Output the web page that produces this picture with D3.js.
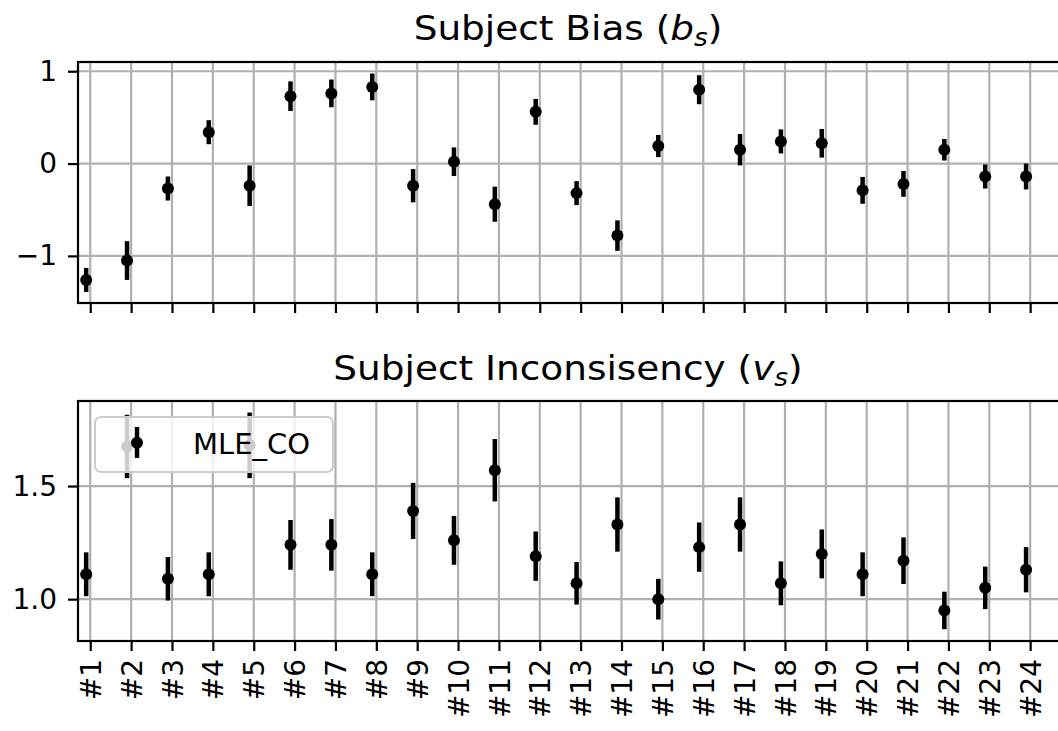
<!DOCTYPE html>
<html>
<head>
<meta charset="utf-8">
<script src="https://cdn.jsdelivr.net/npm/d3@7"></script>
<style>
  body { margin: 0; background: #fff; }
  svg { display: block; font-family: "DejaVu Sans", sans-serif; }
</style>
</head>
<body>
<script>
// subjects on the x axis
var subjects = d3.range(1, 25).map(function(i) { return "#" + i; });

// subject bias b_s (mean and half error bar)
var biasMean = [-1.26, -1.05, -0.27, 0.34, -0.24, 0.73, 0.76, 0.83,
                -0.24, 0.02, -0.44, 0.56, -0.32, -0.78, 0.19, 0.80,
                0.15, 0.24, 0.22, -0.29, -0.22, 0.15, -0.14, -0.14];
var biasErr = [0.13, 0.21, 0.13, 0.13, 0.22, 0.16, 0.15, 0.145,
               0.18, 0.155, 0.19, 0.14, 0.13, 0.165, 0.12, 0.157,
               0.17, 0.13, 0.155, 0.145, 0.14, 0.117, 0.13, 0.14];

// subject inconsistency v_s
var inconMean = [1.11, 1.675, 1.09, 1.11, 1.68, 1.24, 1.24, 1.11,
                 1.39, 1.26, 1.57, 1.19, 1.07, 1.33, 1.00, 1.23,
                 1.33, 1.07, 1.20, 1.11, 1.17, 0.95, 1.05, 1.13];
var inconErr = [0.097, 0.14, 0.096, 0.097, 0.145, 0.11, 0.114, 0.097,
                0.124, 0.108, 0.138, 0.109, 0.094, 0.12, 0.09, 0.109,
                0.12, 0.097, 0.108, 0.097, 0.103, 0.083, 0.094, 0.10];

var biasTicks = [-1, 0, 1];
var inconTicks = [1.0, 1.5];
var seriesName = "MLE_CO";

var width = 1058, height = 731;
var left = 78, right = 1060;
var offset = -0.1; // series offset from tick

var svg = d3.select("body").append("svg")
    .attr("width", width)
    .attr("height", height);

var x = d3.scaleLinear().domain([-0.3, 23.73]).range([left, right]);

var panels = [
  { title: "Subject Bias (", sym: "b", top: 62, bottom: 303, domain: [-1.51, 1.10],
    ticks: biasTicks, fmt: function(d) { return d3.format("d")(d).replace("-", "\u2212"); },
    mean: biasMean, err: biasErr, labels: false, titleY: 39.5 },
  { title: "Subject Inconsisency (", sym: "v", top: 401, bottom: 641, domain: [0.815, 1.876],
    ticks: inconTicks, fmt: d3.format(".1f"),
    mean: inconMean, err: inconErr, labels: true, titleY: 379.5 }
];

panels.forEach(function(p) {
  var y = d3.scaleLinear().domain(p.domain).range([p.bottom, p.top]);
  var g = svg.append("g");

  // grid
  g.selectAll(".gx").data(d3.range(subjects.length)).enter().append("line")
      .attr("x1", function(d) { return x(d); })
      .attr("x2", function(d) { return x(d); })
      .attr("y1", p.top).attr("y2", p.bottom)
      .attr("stroke", "#b0b0b0").attr("stroke-width", 2.2);
  g.selectAll(".gy").data(p.ticks).enter().append("line")
      .attr("x1", left).attr("x2", right)
      .attr("y1", function(d) { return y(d); })
      .attr("y2", function(d) { return y(d); })
      .attr("stroke", "#b0b0b0").attr("stroke-width", 2.2);

  // error bars
  var pts = g.selectAll(".pt").data(p.mean).enter().append("g");
  pts.append("line")
      .attr("x1", function(d, i) { return x(i + offset); })
      .attr("x2", function(d, i) { return x(i + offset); })
      .attr("y1", function(d, i) { return y(d - p.err[i]); })
      .attr("y2", function(d, i) { return y(d + p.err[i]); })
      .attr("stroke", "#000").attr("stroke-width", 4.5);
  pts.append("circle")
      .attr("cx", function(d, i) { return x(i + offset); })
      .attr("cy", function(d) { return y(d); })
      .attr("r", 6).attr("fill", "#000");

  // axes
  var ya = g.append("g").attr("transform", "translate(" + left + ",0)")
      .call(d3.axisLeft(y).tickValues(p.ticks).tickFormat(p.fmt).tickSize(10).tickPadding(11));
  var xa = g.append("g").attr("transform", "translate(0," + p.bottom + ")")
      .call(d3.axisBottom(x).tickValues(d3.range(subjects.length))
        .tickFormat(p.labels ? function(i) { return subjects[i]; } : "")
        .tickSize(10).tickPadding(0));
  [ya, xa].forEach(function(a) {
    a.select(".domain").remove();
    a.selectAll(".tick line").attr("stroke", "#000").attr("stroke-width", 2.2);
    a.selectAll("text").attr("fill", "#000").style("font-size", "28px")
        .style("font-family", "DejaVu Sans");
  });
  if (p.labels) {
    xa.selectAll(".tick text")
        .attr("text-anchor", "end")
        .attr("y", 0).attr("dy", "0.36em")
        .attr("transform", "translate(0,18) rotate(-90)");
  }

  // spines
  g.append("rect")
      .attr("x", left).attr("y", p.top)
      .attr("width", right - left).attr("height", p.bottom - p.top)
      .attr("fill", "none").attr("stroke", "#000").attr("stroke-width", 2.2);

  // title with math symbol (picture is stretched a bit horizontally)
  var t = svg.append("text")
      .attr("transform", "translate(" + ((left + 1058) / 2) + "," + p.titleY + ") scale(1.1,1)")
      .attr("text-anchor", "middle")
      .style("font-size", "34px").attr("fill", "#000");
  t.append("tspan").text(p.title);
  t.append("tspan").style("font-style", "italic").text(p.sym);
  t.append("tspan").style("font-style", "italic").style("font-size", "24px")
      .attr("dy", 6).text("s");
  t.append("tspan").attr("dy", -6).text(")");
});

// legend in lower panel
var lg = svg.append("g");
lg.append("rect")
    .attr("x", 95).attr("y", 417).attr("width", 238).attr("height", 55)
    .attr("rx", 6)
    .attr("fill", "#fff").attr("fill-opacity", 0.8)
    .attr("stroke", "#cccccc").attr("stroke-width", 2);
lg.append("line")
    .attr("x1", 137).attr("x2", 137).attr("y1", 427).attr("y2", 458)
    .attr("stroke", "#000").attr("stroke-width", 4.5);
lg.append("circle").attr("cx", 137).attr("cy", 442.7).attr("r", 6).attr("fill", "#000");
lg.append("text")
    .attr("x", 193).attr("y", 453.5)
    .style("font-size", "29px").attr("fill", "#000")
    .text(seriesName);
</script>
</body>
</html>
